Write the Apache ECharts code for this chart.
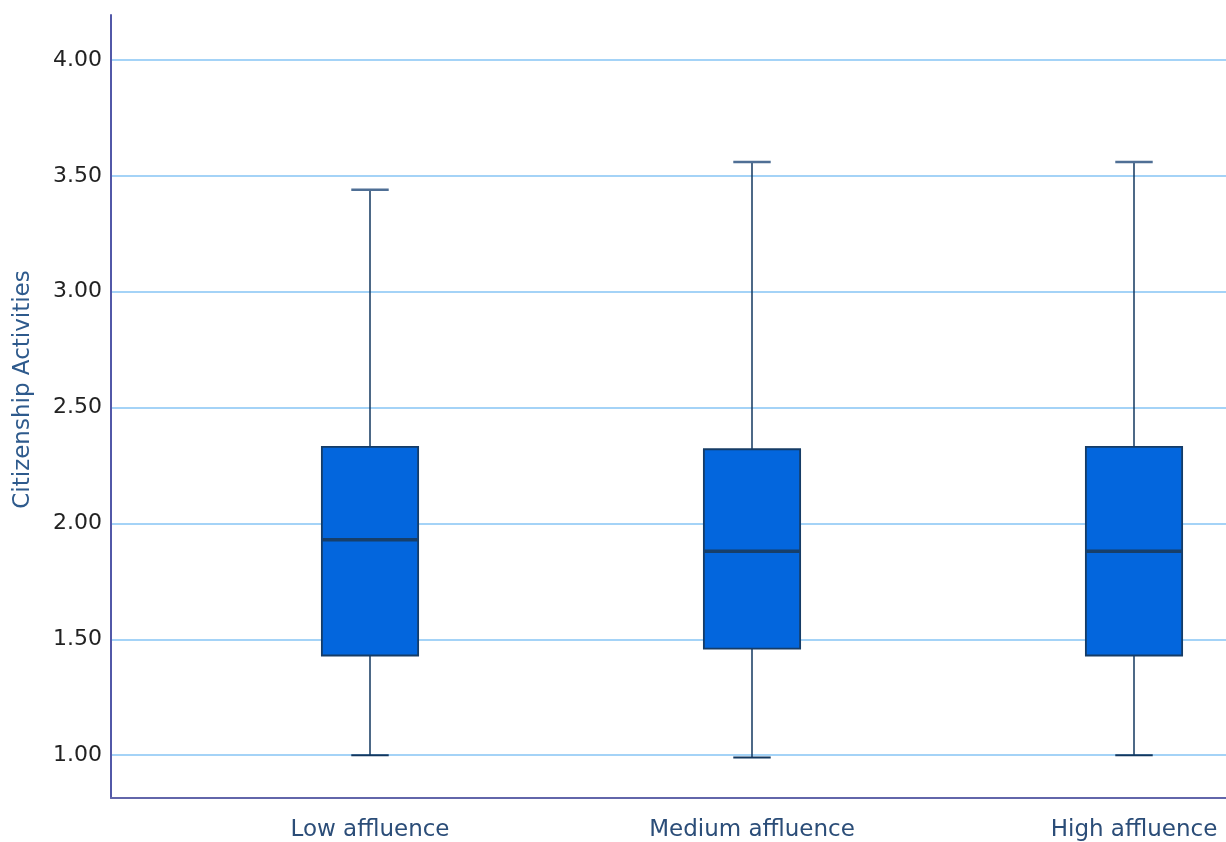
<!DOCTYPE html>
<html>
<head>
<meta charset="utf-8">
<script src="https://cdn.jsdelivr.net/npm/echarts@6/dist/echarts.min.js"></script>
<style>
  html, body { margin: 0; padding: 0; background: #fff; }
  #chart { width: 1226px; height: 842px; }
</style>
</head>
<body>
<div id="chart"></div>
<script>
// box statistics per group
const categories = ['Low affluence', 'Medium affluence', 'High affluence']
const whiskerLow = [1.00, 0.99, 1.00]
const q1 = [1.43, 1.46, 1.43]
const median = [1.93, 1.88, 1.88]
const q3 = [2.33, 2.32, 2.33]
const whiskerHigh = [3.44, 3.56, 3.56]
const yTicks = [1.0, 1.5, 2.0, 2.5, 3.0, 3.5, 4.0]

const boxData = categories.map((c, i) => [i, whiskerLow[i], q1[i], median[i], q3[i], whiskerHigh[i]])

const chart = echarts.init(document.getElementById('chart'))

const yMin = 0.815
const yMax = 4.194
const lineDark = '#12375f'
const font = 'DejaVu Sans, sans-serif'

const option = {
  backgroundColor: '#fff',
  animation: false,
  grid: [
    { left: 111, right: 0, top: 15, bottom: 44, outerBoundsMode: 'none' },
    { left: 179, width: 1146, top: 15, bottom: 44, outerBoundsMode: 'none' }
  ],
  xAxis: [
    {
      gridIndex: 0, type: 'value', min: 0, max: 1,
      axisLine: { show: true, lineStyle: { color: '#6266aa', width: 2 } },
      axisTick: { show: false }, axisLabel: { show: false }, splitLine: { show: false }
    },
    {
      gridIndex: 1, type: 'category', data: categories,
      axisLine: { show: false }, axisTick: { show: false },
      axisLabel: { color: '#2b4d78', fontSize: 23, fontFamily: font, margin: 21 }
    }
  ],
  yAxis: [
    {
      gridIndex: 0, type: 'value', min: yMin, max: yMax,
      name: 'Citizenship Activities',
      nameLocation: 'middle', nameGap: 76, nameRotate: 90,
      nameTextStyle: { color: '#2e5a8c', fontSize: 23, fontFamily: font, padding: [0, 0, 0, 34] },
      axisLine: { show: true, lineStyle: { color: '#5258a8', width: 2 } },
      axisTick: { show: false, customValues: yTicks },
      axisLabel: {
        customValues: yTicks, color: '#222', fontSize: 22, margin: 9,
        fontFamily: font,
        formatter: v => v.toFixed(2)
      },
      splitLine: { show: true, lineStyle: { color: '#86c4f5', width: 1.6 } }
    },
    {
      gridIndex: 1, type: 'value', min: yMin, max: yMax,
      axisLine: { show: false }, axisTick: { show: false }, axisLabel: { show: false },
      splitLine: { show: false }
    }
  ],
  series: [
    {
      type: 'custom',
      xAxisIndex: 1,
      yAxisIndex: 1,
      clip: false,
      data: boxData,
      renderItem: function (params, api) {
        const x = api.value(0)
        const lo = api.coord([x, api.value(1)])
        const b1 = api.coord([x, api.value(2)])
        const md = api.coord([x, api.value(3)])
        const b3 = api.coord([x, api.value(4)])
        const hi = api.coord([x, api.value(5)])
        const band = api.size([1, 0])[0]
        const bw = band * 0.252
        const cw = band * 0.098
        const cx = lo[0]
        const stroke = { stroke: lineDark, lineWidth: 1.5 }
        return {
          type: 'group',
          children: [
            { type: 'line', shape: { x1: cx, y1: hi[1], x2: cx, y2: b3[1] }, style: stroke },
            { type: 'line', shape: { x1: cx, y1: b1[1], x2: cx, y2: lo[1] }, style: stroke },
            { type: 'line', shape: { x1: cx - cw / 2, y1: hi[1], x2: cx + cw / 2, y2: hi[1] }, style: { stroke: '#4f6f95', lineWidth: 2.5 } },
            { type: 'line', shape: { x1: cx - cw / 2, y1: lo[1], x2: cx + cw / 2, y2: lo[1] }, style: { stroke: lineDark, lineWidth: 2 } },
            {
              type: 'rect',
              shape: { x: cx - bw / 2, y: b3[1], width: bw, height: b1[1] - b3[1] },
              style: { fill: '#0366dd', stroke: '#163c66', lineWidth: 1.8 }
            },
            { type: 'line', shape: { x1: cx - bw / 2, y1: md[1], x2: cx + bw / 2, y2: md[1] }, style: { stroke: '#173f6a', lineWidth: 3.5 } }
          ]
        }
      }
    }
  ]
}

chart.setOption(option)
</script>
</body>
</html>
